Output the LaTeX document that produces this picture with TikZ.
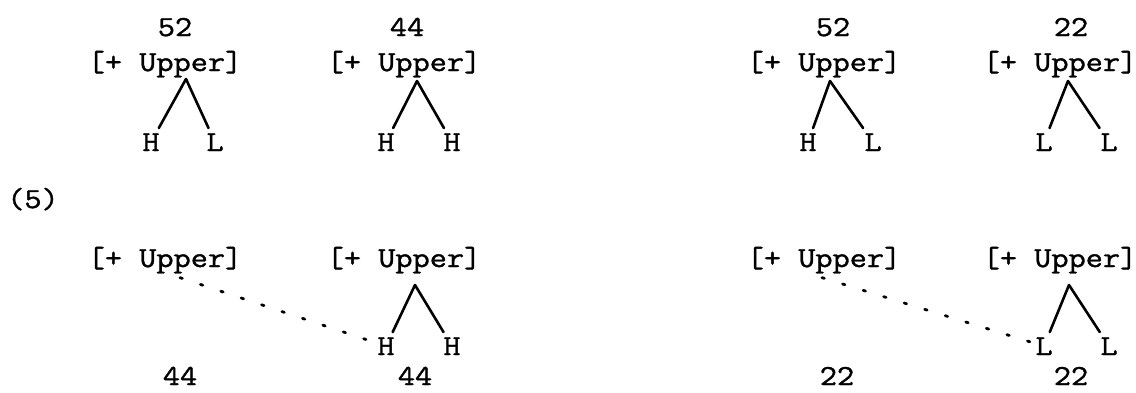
\documentclass[tikz,border=0pt]{standalone}
\usepackage{fontspec}
\newfontfamily\typer[FakeStretch=1.15,FakeBold=1.3]{Latin Modern Mono}
\usetikzlibrary{positioning}
\tikzset{
  feat/.style={
    font=\typer\fontsize{29}{32}\selectfont,
    anchor=base,
    inner sep=0pt
  },
  tone/.style={feat,inner sep=5pt},
  branch/.style={line width=2.6pt,line cap=round},
  spread/.style={line width=2.8pt,line cap=round,dash pattern=on 2.5pt off 19pt}
}
\begin{document}
\begin{tikzpicture}[x=1pt,y=-1pt]
\useasboundingbox (0,0) rectangle (1136,392);
% upper row
\node[feat] (upA) at (165,71) {[+ Upper]};
\node[feat] (upB) at (404,71) {[+ Upper]};
\node[feat] (upC) at (824,71) {[+ Upper]};
\node[feat] (upD) at (1060,71) {[+ Upper]};
\node[feat] (nA) at (175,36) {52};
\node[feat] (nB) at (407,36) {44};
\node[feat] (nC) at (833,36) {52};
\node[feat] (nD) at (1071,36) {22};
\coordinate (apA) at (186,79);
\coordinate (apB) at (417,81);
\coordinate (apC) at (830,81);
\coordinate (apD) at (1068,81);
\node[tone] (tA1) at (151,151) {H};
\node[tone] (tA2) at (215,151) {L};
\node[tone] (tB1) at (386,151) {H};
\node[tone] (tB2) at (452,151) {H};
\node[tone] (tC1) at (808,151) {H};
\node[tone] (tC2) at (873,151) {L};
\node[tone] (tD1) at (1044,151) {L};
\node[tone] (tD2) at (1109,151) {L};
\foreach \t in {A,B,C,D}{
  \draw[branch] (ap\t) -- (t\t1);
  \draw[branch] (ap\t) -- (t\t2);
}
\node[feat] (ex) at (33,208) {(5)};
% lower row
\node[feat] (loA) at (165,267) {[+ Upper]};
\node[feat] (loB) at (404,267) {[+ Upper]};
\node[feat] (loC) at (824,267) {[+ Upper]};
\node[feat] (loD) at (1060,267) {[+ Upper]};
\coordinate (bpB) at (415,285);
\coordinate (bpD) at (1069,285);
\node[tone] (sB1) at (386,355) {H};
\node[tone] (sB2) at (452,355) {H};
\node[tone] (sD1) at (1044,355) {L};
\node[tone] (sD2) at (1109,355) {L};
\foreach \t in {B,D}{
  \draw[branch] (bp\t) -- (s\t1);
  \draw[branch] (bp\t) -- (s\t2);
}
\draw[spread] ([xshift=15pt,yshift=-4pt]loA.south) -- (sB1);
\draw[spread] ([xshift=-2pt,yshift=-4pt]loC.south) -- (sD1);
\node[feat] (mA) at (180,385) {44};
\node[feat] (mB) at (415,385) {44};
\node[feat] (mC) at (837,385) {22};
\node[feat] (mD) at (1071,385) {22};
\end{tikzpicture}
\end{document}
